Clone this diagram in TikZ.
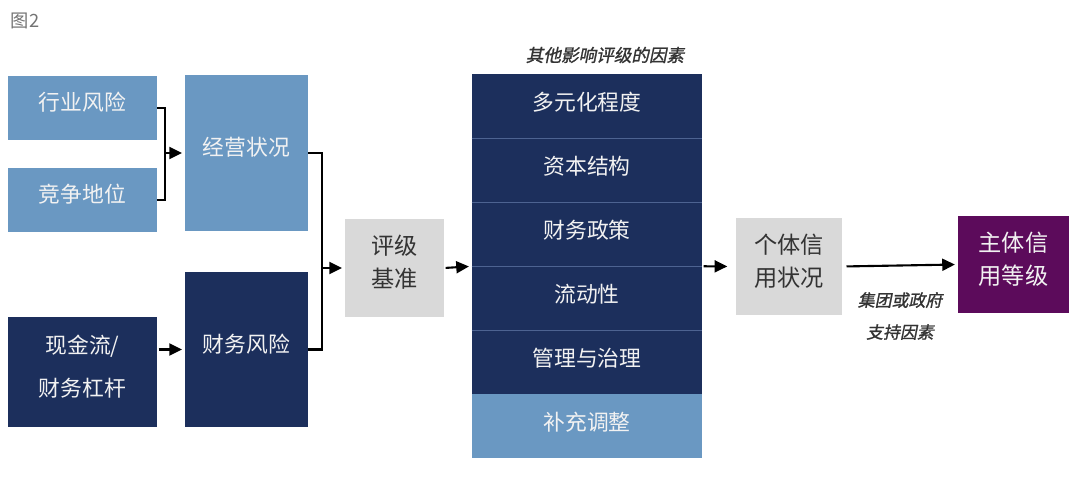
\documentclass[tikz,border=0pt]{standalone}
\usepackage{fontspec}
\setmainfont{Noto Sans CJK SC}
\newfontfamily\slantcjk[FakeSlant=0.2, FakeBold=1.2]{Noto Sans CJK SC}
\usetikzlibrary{arrows.meta}
\definecolor{navy}{HTML}{1C2F5C}
\definecolor{steel}{HTML}{6A98C2}
\definecolor{pale}{HTML}{D9D9D9}
\definecolor{plum}{HTML}{5C0B5B}
\definecolor{ink}{HTML}{333333}
\definecolor{divcol}{HTML}{4D6391}
\begin{document}
\begin{tikzpicture}[x=0.025cm, y=-0.025cm,
  dims/.style 2 args={minimum width=#1*0.025cm, minimum height=#2*0.025cm},
  blk/.style={inner sep=0pt, align=center, text depth=9.5pt},
  darkblk/.style={blk, fill=navy, text=white!95!black, font=\fontsize{15.5pt}{30.5pt}\selectfont},
  lightblk/.style={blk, fill=steel, text=white!95!black, font=\fontsize{15.5pt}{30.5pt}\selectfont},
  greyblk/.style={blk, fill=pale, text=ink, font=\fontsize{16.5pt}{23.4pt}\selectfont},
  plumblk/.style={blk, fill=plum, text=white!95!black, font=\fontsize{16.5pt}{23.4pt}\selectfont},
  rowblk/.style={blk, dims={230}{64}, text depth=7pt, text=white!95!black, font=\fontsize{15.5pt}{20pt}\selectfont},
  note/.style={text=ink, align=center, font=\slantcjk\fontsize{12.5pt}{22.7pt}\selectfont},
  wire/.style={line width=1.5pt, black},
  arr/.style={wire, -{Triangle[length=9pt,width=8.5pt]}, shorten <=1pt, shorten >=2pt},
  divider/.style={divcol, line width=0.8pt}]
\useasboundingbox (0,0) rectangle (1080,477);
\node[anchor=west, text=black!55, font=\fontsize{13pt}{15pt}\selectfont] (figno) at (6,21) {图2}; % figure number
\node[lightblk, dims={149}{64}] (ind) at (82.5,108) {行业风险}; % industry
\node[lightblk, dims={149}{64}] (comp) at (82.5,200) {竞争地位}; % position
\node[lightblk, dims={123}{156}] (ops) at (246.5,153) {经营状况}; % business
\node[darkblk, dims={149}{110}] (cash) at (82.5,372) {现金流/\\财务杠杆}; % cash flow
\node[darkblk, dims={123}{155}] (fin) at (246.5,349.5) {财务风险}; % financial
\node[greyblk, dims={99}{98}] (base) at (394.5,268) {评级\\基准}; % anchor
\node[note] (title) at (605,55) {其他影响评级的因素}; % column title
\node[rowblk, fill=navy] (r1) at (587,106) {多元化程度}; % row 1
\node[rowblk, fill=navy] (r2) at (587,170) {资本结构}; % row 2
\node[rowblk, fill=navy] (r3) at (587,234) {财务政策}; % row 3
\node[rowblk, fill=navy] (r4) at (587,298) {流动性}; % row 4
\node[rowblk, fill=navy] (r5) at (587,362) {管理与治理}; % row 5
\node[rowblk, fill=steel] (r6) at (587,426) {补充调整}; % row 6
\draw[divider] (r1.south west) -- (r1.south east); % r1/r2
\draw[divider] (r2.south west) -- (r2.south east); % r2/r3
\draw[divider] (r3.south west) -- (r3.south east); % r3/r4
\draw[divider] (r4.south west) -- (r4.south east); % r4/r5
\node[greyblk, dims={106}{97}] (indiv) at (789,266.5) {个体信\\用状况}; % stand-alone
\node[plumblk, dims={111}{97}] (rating) at (1013.5,264.5) {主体信\\用等级}; % issuer
\node[note, font=\slantcjk\fontsize{12pt}{22.7pt}\selectfont] (support) at (900,316) {集团或政府\\支持因素}; % support
\coordinate (j1) at (165,153);
\coordinate (j2) at (322,268);
\draw[wire] (ind.east) -| (j1) |- (comp.east); % bracket 1
\draw[arr] (j1) -- (ops.west);
\draw[wire] (ops.east) -| (j2) |- (fin.east); % bracket 2
\draw[arr] (j2) -- (base.west);
\draw[arr] (cash.east |- fin.west) -- (fin.west);
\draw[arr] (base.east) -- (r3.south west);
\draw[arr, shorten >=6pt] (r3.south east) -- (indiv.west);
\draw[arr, shorten <=3pt] (indiv.east) -- (rating.west);
\end{tikzpicture}
\end{document}
